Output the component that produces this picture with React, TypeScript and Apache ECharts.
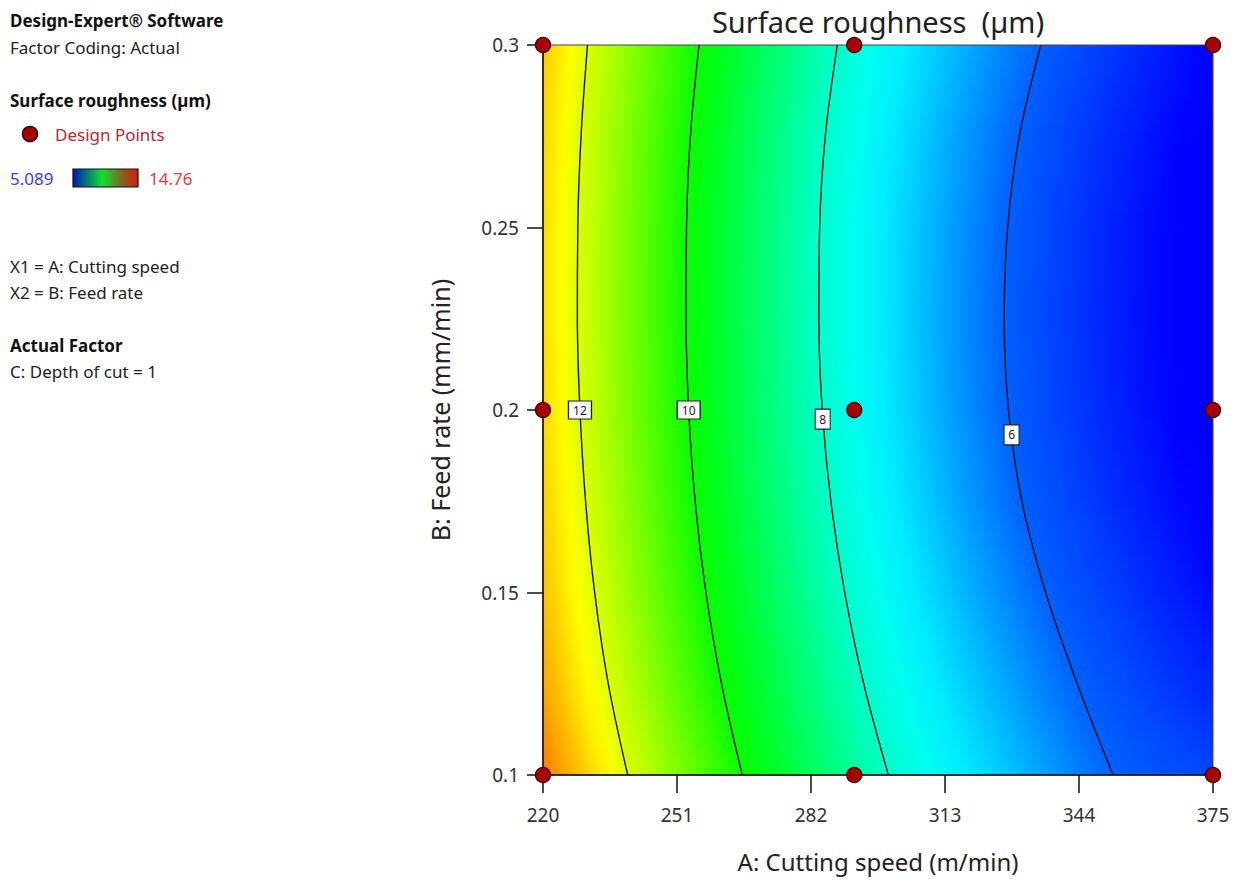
import React, { useEffect, useRef } from "react";
import * as echarts from "echarts";

// ---- data ----
const fieldB = [0.3, 0.275, 0.25, 0.225, 0.2, 0.175, 0.15, 0.125, 0.1];
const contour12A = [230.3, 228.8, 228.05, 227.95, 228.55, 229.85, 231.95, 235.1, 239.6];
const contour10A = [256.1, 254.1, 253.2, 253.1, 253.7, 255.2, 257.7, 261.3, 266.1];
const contour8A = [288.1, 285.3, 284.0, 283.8, 284.6, 286.6, 289.8, 294.2, 299.9];
const contour6A = [335.2, 330.2, 327.5, 326.7, 327.7, 330.8, 336.3, 343.6, 351.9];
const leftEdgeValue = [12.87, 12.75, 12.69, 12.68, 12.72, 12.81, 12.94, 13.18, 13.61];
const rightEdgeValue = [5.07, 4.92, 4.84, 4.82, 4.87, 4.99, 5.17, 5.42, 5.74];
const contourLevels = [12, 10, 8, 6];
const contourLabelPoints = [
  [228.55, 0.2, 12],
  [253.7, 0.2, 10],
  [284.7, 0.1975, 8],
  [328.4, 0.1932, 6],
];
const designPoints = [
  [220, 0.3], [292, 0.3], [375, 0.3],
  [220, 0.2], [292, 0.2], [375, 0.2],
  [220, 0.1], [292, 0.1], [375, 0.1],
];
const xTicks = [220, 251, 282, 313, 344, 375];
const yTicks = [0.1, 0.15, 0.2, 0.25, 0.3];
const colorRangeMin = 5.089;
const colorRangeMax = 14.76;
const xMin = 220;
const xMax = 375;

const FONT = "Noto Sans";

const cmap: [number, number[]][] = [
  [0, [0, 0, 255]],
  [0.25, [0, 255, 255]],
  [0.5, [0, 255, 0]],
  [0.75, [255, 255, 0]],
  [1, [255, 0, 0]],
];

function colorFor(v: number): string {
  let t = (v - colorRangeMin) / (colorRangeMax - colorRangeMin);
  t = Math.max(0, Math.min(1, t));
  for (let i = 0; i < cmap.length - 1; i++) {
    const [t0, c0] = cmap[i];
    const [t1, c1] = cmap[i + 1];
    if (t <= t1) {
      const f = (t - t0) / (t1 - t0);
      const c = c0.map((a, k) => Math.round(a + (c1[k] - a) * f));
      return `rgb(${c[0]},${c[1]},${c[2]})`;
    }
  }
  return "rgb(255,0,0)";
}

const contourArrays = [contour12A, contour10A, contour8A, contour6A];

function lerp(a: number, b: number, f: number) {
  return a + (b - a) * f;
}

export default function App() {
  const ref = useRef<HTMLDivElement>(null);

  useEffect(() => {
    if (!ref.current) return;
    const chart = echarts.init(ref.current, undefined, { renderer: "svg" });

    const renderField = (params: any, api: any) => {
      const i = params.dataIndex;
      const bTop = fieldB[i];
      const bBot = fieldB[i + 1];
      const pTL = api.coord([xMin, bTop]);
      const pBR = api.coord([xMax, bBot]);
      const xL = pTL[0];
      const xR = pBR[0];
      const yT = pTL[1];
      const yB = pBR[1];
      const step = 2;
      const children: any[] = [];
      for (let y = yT; y < yB; y += step) {
        const f = Math.min(1, (y + step / 2 - yT) / (yB - yT));
        const pts: [number, number][] = [];
        pts.push([xL, lerp(leftEdgeValue[i], leftEdgeValue[i + 1], f)]);
        contourArrays.forEach((arr, k) => {
          const a = lerp(arr[i], arr[i + 1], f);
          const px = api.coord([a, bTop])[0];
          pts.push([px, contourLevels[k]]);
        });
        pts.push([xR, lerp(rightEdgeValue[i], rightEdgeValue[i + 1], f)]);
        const stops: any[] = [];
        const sub = 6;
        for (let s = 0; s < pts.length - 1; s++) {
          const [xa, va] = pts[s];
          const [xb, vb] = pts[s + 1];
          for (let k = 0; k < sub; k++) {
            const g = k / sub;
            stops.push({
              offset: Math.max(0, Math.min(1, (lerp(xa, xb, g) - xL) / (xR - xL))),
              color: colorFor(lerp(va, vb, g)),
            });
          }
        }
        const last = pts[pts.length - 1];
        stops.push({ offset: 1, color: colorFor(last[1]) });
        children.push({
          type: "rect",
          shape: { x: xL, y: y - 0.5, width: xR - xL, height: step + 1.5 },
          style: { fill: new echarts.graphic.LinearGradient(0, 0, 1, 0, stops), lineWidth: 0 },
          silent: true,
        });
      }
      return { type: "group", children };
    };

    const contourSeries = contourArrays.map((arr, k) => ({
      type: "line",
      name: "contour " + contourLevels[k],
      data: arr.map((a, j) => [a, fieldB[j]]),
      smooth: 0.35,
      symbol: "none",
      lineStyle: { color: "#111", width: 1.4 },
      z: 3,
      silent: true,
    }));

    const option: any = {
      animation: false,
      backgroundColor: "#ffffff",
      textStyle: { fontFamily: FONT },
      grid: {
        left: 543,
        top: 45,
        width: 670,
        height: 730,
        show: true,
        borderColor: "#444",
        borderWidth: 1,
        backgroundColor: "transparent",
        z: 10,
      },
      xAxis: {
        type: "value",
        min: xMin,
        max: xMax,
        name: "A: Cutting speed (m/min)",
        nameLocation: "middle",
        nameGap: 74,
        nameTextStyle: { fontSize: 24, color: "#222", fontFamily: FONT },
        axisLine: { show: true, onZero: false, lineStyle: { color: "#111", width: 1.5 } },
        axisTick: { show: true, customValues: xTicks, length: 18, lineStyle: { color: "#111", width: 1.5 } },
        axisLabel: { customValues: xTicks, fontSize: 19, color: "#333", margin: 30, fontFamily: FONT },
        splitLine: { show: false },
        z: 11,
      },
      yAxis: {
        type: "value",
        min: 0.1,
        max: 0.3,
        name: "B: Feed rate (mm/min)",
        nameLocation: "middle",
        nameGap: 91,
        nameRotate: 90,
        nameTextStyle: { fontSize: 25, color: "#222", fontFamily: FONT },
        axisLine: { show: true, onZero: false, lineStyle: { color: "#111", width: 1.5 } },
        axisTick: { show: true, customValues: yTicks, length: 16, lineStyle: { color: "#111", width: 1.5 } },
        axisLabel: { customValues: yTicks, fontSize: 19, color: "#333", margin: 24, fontFamily: FONT },
        splitLine: { show: false },
        z: 11,
      },
      graphic: [
        {
          type: "text",
          x: 878,
          y: 21,
          style: {
            text: "Surface roughness  (µm)",
            fontSize: 29,
            fontFamily: FONT,
            fill: "#222",
            align: "center",
            verticalAlign: "middle",
            textAlign: "center",
            textVerticalAlign: "middle",
          },
        },
        ...[
          { t: "Design-Expert® Software", y: 20, bold: true, color: "#111" },
          { t: "Factor Coding: Actual", y: 47, bold: false, color: "#222" },
          { t: "Surface roughness (µm)", y: 100, bold: true, color: "#111" },
          { t: "X1 = A: Cutting speed", y: 266, bold: false, color: "#222" },
          { t: "X2 = B: Feed rate", y: 292, bold: false, color: "#222" },
          { t: "Actual Factor", y: 345, bold: true, color: "#111" },
          { t: "C: Depth of cut = 1", y: 371, bold: false, color: "#222" },
        ].map((d) => ({
          type: "text",
          x: 10,
          y: d.y,
          style: {
            text: d.t,
            fontSize: 17,
            fontWeight: d.bold ? "bold" : "normal",
            fontFamily: FONT,
            fill: d.color,
            verticalAlign: "middle",
            textVerticalAlign: "middle",
          },
        })),
        {
          type: "circle",
          shape: { cx: 30, cy: 134, r: 7.5 },
          style: { fill: "#a80000", stroke: "#300", lineWidth: 1.5 },
        },
        {
          type: "text",
          x: 55,
          y: 134,
          style: {
            text: "Design Points",
            fontSize: 17,
            fontFamily: FONT,
            fill: "#b52a2f",
            verticalAlign: "middle",
            textVerticalAlign: "middle",
          },
        },
        {
          type: "text",
          x: 10,
          y: 178,
          style: {
            text: "5.089",
            fontSize: 17,
            fontFamily: FONT,
            fill: "#3b3bef",
            verticalAlign: "middle",
            textVerticalAlign: "middle",
          },
        },
        {
          type: "rect",
          shape: { x: 73, y: 169, width: 65, height: 18 },
          style: {
            fill: new echarts.graphic.LinearGradient(0, 0, 1, 0, [
              { offset: 0, color: "#0018b8" },
              { offset: 0.45, color: "#10e030" },
              { offset: 0.78, color: "#8a5a1e" },
              { offset: 1, color: "#e01a10" },
            ]),
            stroke: "#111",
            lineWidth: 1.2,
          },
        },
        {
          type: "text",
          x: 149,
          y: 178,
          style: {
            text: "14.76",
            fontSize: 17,
            fontFamily: FONT,
            fill: "#e0403a",
            verticalAlign: "middle",
            textVerticalAlign: "middle",
          },
        },
      ],
      series: [
        {
          type: "custom",
          name: "surface",
          data: fieldB.slice(0, -1).map((b) => [xMin, b]),
          encode: { x: 0, y: 1 },
          renderItem: renderField,
          clip: true,
          silent: true,
          z: 1,
        },
        ...contourSeries,
        {
          type: "scatter",
          name: "contour labels",
          data: contourLabelPoints,
          symbol: "rect",
          symbolSize: (v: number[]) => (v[2] >= 10 ? [23, 18] : [15, 20]),
          itemStyle: { color: "#ffffff", borderColor: "#222", borderWidth: 1.2, opacity: 1 },
          label: {
            show: true,
            position: "inside",
            formatter: (p: any) => String(p.value[2]),
            fontSize: 12,
            color: "#222",
            fontFamily: FONT,
          },
          z: 5,
          silent: true,
        },
        {
          type: "scatter",
          name: "Design Points",
          data: designPoints,
          symbol: "circle",
          symbolSize: 15,
          clip: false,
          itemStyle: { color: "#a80000", borderColor: "#3a0000", borderWidth: 1.3, opacity: 1 },
          z: 20,
          silent: true,
        },
      ],
    };

    chart.setOption(option);
    return () => chart.dispose();
  }, []);

  return (
    <div
      ref={ref}
      style={{ position: "fixed", left: 0, top: 0, width: 1236, height: 886, background: "#fff" }}
    />
  );
}
